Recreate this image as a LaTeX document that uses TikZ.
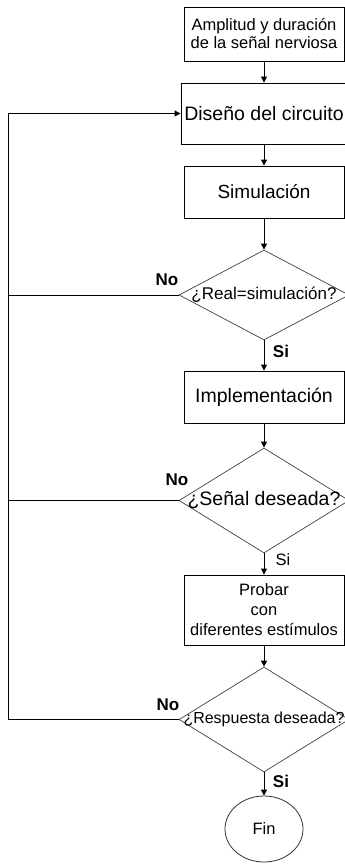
\documentclass[tikz,border=0pt]{standalone}
\usepackage{fontspec}
\setmainfont{Liberation Sans}
\usetikzlibrary{shapes.geometric,arrows.meta}
\tikzset{>={Triangle[length=6pt,width=6pt]}}
\tikzset{proc/.style={black,draw=black,rectangle,minimum width=160pt,align=center,line width=0.9pt}}
\tikzset{decision/.style={black,draw=black!75,diamond,minimum width=170pt,inner sep=0pt,line width=0.7pt}}
\tikzset{endpoint/.style={black,draw=black!80,ellipse,minimum width=78pt,minimum height=66pt,line width=0.8pt}}
\tikzset{answer/.style={black,font=\fontsize{17}{18}\selectfont\bfseries}}
\begin{document}
\begin{tikzpicture}[x=1pt,y=-1pt,line width=0.9pt]
                \useasboundingbox (0,0) rectangle (345,864);
                \node[proc,minimum height=54pt,font=\fontsize{16.5}{18}\selectfont] (signal) at (264,34) {Amplitud y duración\\de la señal nerviosa};
                \node[proc,minimum height=61pt,font=\fontsize{19.5}{20}\selectfont] (design) at (264,113.5) {Diseño del circuito};
                \node[proc,minimum height=52pt,font=\fontsize{19}{20}\selectfont] (sim) at (264,192) {Simulación};
                \node[decision,minimum height=90pt,font=\fontsize{17}{18}\selectfont] (checkSim) at (264,295) {\makebox[0pt]{¿Real=simulación?}};
                \node[proc,minimum height=52pt,font=\fontsize{19.5}{20}\selectfont] (impl) at (264,397) {Implementación};
                \node[decision,minimum height=105pt,font=\fontsize{19.5}{20}\selectfont] (checkSignal) at (264,500.5) {\makebox[0pt]{¿Señal deseada?}};
                \node[proc,minimum height=70pt,font=\fontsize{16.5}{20}\selectfont] (test) at (264,610) {Probar\\con\\diferentes estímulos};
                \node[decision,minimum height=105pt,font=\fontsize{16}{18}\selectfont] (checkResp) at (264,719.5) {\makebox[0pt]{¿Respuesta deseada?}};
                \node[endpoint,font=\fontsize{16.5}{18}\selectfont] (end) at (264,829) {Fin};
                \node[answer] (no1) at (167,280) {No};
                \node[answer] (si1) at (281,351) {Si};
                \node[answer] (no2) at (177,480) {No};
                \node[answer,font=\fontsize{16.5}{18}\selectfont] (si2) at (283,560) {Si};
                \node[answer] (no3) at (168,705) {No};
                \node[answer] (si3) at (281,781) {Si};
                \coordinate (back) at (8,113.5);
                \draw[->] (signal) -- (design);
                \draw[->] (design) -- (sim);
                \draw[->] (sim) -- (checkSim);
                \draw[->] (checkSim) -- (impl);
                \draw[->] (impl) -- (checkSignal);
                \draw[->] (checkSignal) -- (test);
                \draw[->] (test) -- (checkResp);
                \draw[->] (checkResp) -- (end);
                \draw[->] (checkResp.west) -| (back) -- (design.west);
                \draw (checkSim.west) -- (checkSim.west -| back);
                \draw (checkSignal.west) -- (checkSignal.west -| back);
                \end{tikzpicture}
\end{document}
